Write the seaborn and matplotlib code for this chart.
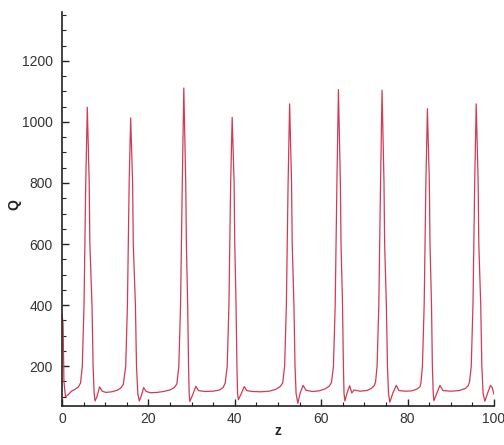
import matplotlib
matplotlib.use("Agg")
import matplotlib.pyplot as plt
import seaborn as sns
from matplotlib.ticker import MultipleLocator

# z positions and Q values
z = [0.0, 0.25, 0.45, 0.8, 1.4, 2.2, 3.0, 3.8, 4.3, 4.7,
     5.1, 5.5, 5.86, 6.3, 6.45, 6.95, 7.2, 7.45, 7.65, 8.1, 8.7, 9.3, 10.2, 11.5, 12.8, 13.6, 14.2, 14.75,
     15.15, 15.55, 15.9, 16.35, 16.5, 17.0, 17.25, 17.55, 17.9, 18.4, 18.9, 19.5, 20.5, 22.0, 23.5, 25.0, 26.0, 26.6, 27.05,
     27.45, 27.85, 28.2, 28.65, 28.8, 29.1, 29.3, 29.45, 29.6, 30.3, 31.0, 31.6, 33.0, 35.0, 36.5, 37.3, 37.8, 38.25,
     38.65, 39.05, 39.4, 39.85, 40.0, 40.3, 40.5, 40.65, 40.85, 41.5, 42.2, 42.8, 44.0, 46.0, 48.0, 49.5, 50.5, 51.1, 51.55,
     51.95, 52.35, 52.7, 53.15, 53.3, 53.7, 53.95, 54.2, 54.6, 55.1, 55.8, 56.5, 58.0, 59.5, 61.0, 61.9, 62.4, 62.85,
     63.25, 63.65, 64.0, 64.45, 64.6, 64.95, 65.15, 65.3, 65.5, 66.0, 66.6, 67.1, 67.6, 69.0, 70.5, 71.5, 72.3, 72.6, 72.95,
     73.35, 73.75, 74.1, 74.55, 74.7, 75.1, 75.35, 75.6, 75.9, 76.6, 77.4, 78.0, 79.5, 81.0, 82.2, 82.9, 83.1, 83.45,
     83.85, 84.25, 84.6, 85.05, 85.2, 85.55, 85.75, 85.95, 86.1, 86.8, 87.5, 88.2, 90.0, 92.0, 93.4, 94.0, 94.35, 94.75,
     95.15, 95.55, 95.9, 96.35, 96.5, 96.95, 97.2, 97.5, 97.9, 98.5, 99.2, 99.6, 100.0]
q = [370, 340, 150, 100, 106, 118, 124, 132, 145, 200,
     400, 800, 1048, 800, 600, 400, 200, 110, 86, 100, 132, 118, 114, 116, 121, 128, 140, 200,
     400, 800, 1013, 800, 600, 400, 200, 110, 86, 104, 130, 117, 113, 114, 117, 122, 130, 142, 200,
     400, 800, 1111, 800, 600, 400, 200, 110, 84, 108, 134, 120, 117, 118, 122, 130, 145, 200,
     400, 800, 1015, 800, 600, 400, 200, 110, 90, 110, 133, 120, 117, 116, 118, 124, 133, 145, 200,
     400, 800, 1059, 800, 600, 400, 200, 110, 78, 110, 137, 121, 117, 119, 126, 135, 147, 200,
     400, 800, 1106, 800, 600, 400, 200, 110, 86, 112, 136, 112, 122, 118, 120, 126, 136, 148, 200,
     400, 800, 1104, 800, 600, 400, 200, 110, 82, 112, 137, 120, 118, 119, 125, 133, 145, 200,
     400, 800, 1043, 800, 600, 400, 200, 110, 87, 112, 137, 120, 118, 120, 127, 135, 148, 200,
     400, 800, 1059, 800, 600, 400, 200, 110, 85, 110, 137, 130, 108]

x_ticks = [0, 20, 40, 60, 80, 100]
y_ticks = [200, 400, 600, 800, 1000, 1200]

sns.set_theme(style="ticks")
plt.rcParams['font.family'] = ['Liberation Sans', 'DejaVu Sans']

fig = plt.figure(figsize=(5.04, 4.45), dpi=100)
ax = fig.add_axes([0.123, 0.088, 0.857, 0.885])

sns.lineplot(x=z, y=q, color='#d23a55', linewidth=0.9, ax=ax)

ax.set_xlim(0, 100)
ax.set_ylim(70, 1360)
ax.set_xticks(x_ticks)
ax.set_yticks(y_ticks)
ax.xaxis.set_minor_locator(MultipleLocator(5))
ax.yaxis.set_minor_locator(MultipleLocator(50))
ax.tick_params(which='major', direction='in', length=5, width=1, colors='#222222',
               labelsize=10, labelcolor='#333333')
ax.tick_params(which='minor', direction='in', length=3, width=0.8, colors='#222222')
ax.tick_params(axis='y', pad=6.5)
ax.tick_params(axis='x', pad=4.5)

sns.despine(ax=ax)
for side in ['left', 'bottom']:
    ax.spines[side].set_linewidth(1.2)
    ax.spines[side].set_color('#222222')

ax.set_xlabel('z', fontsize=10, fontweight='bold', color='#222222')
ax.set_ylabel('Q', fontsize=10, fontweight='bold', color='#222222')
ax.xaxis.set_label_coords(0.5, -0.045)
ax.yaxis.set_label_coords(-0.093, 0.51)

fig.savefig('out.png', dpi=100)
